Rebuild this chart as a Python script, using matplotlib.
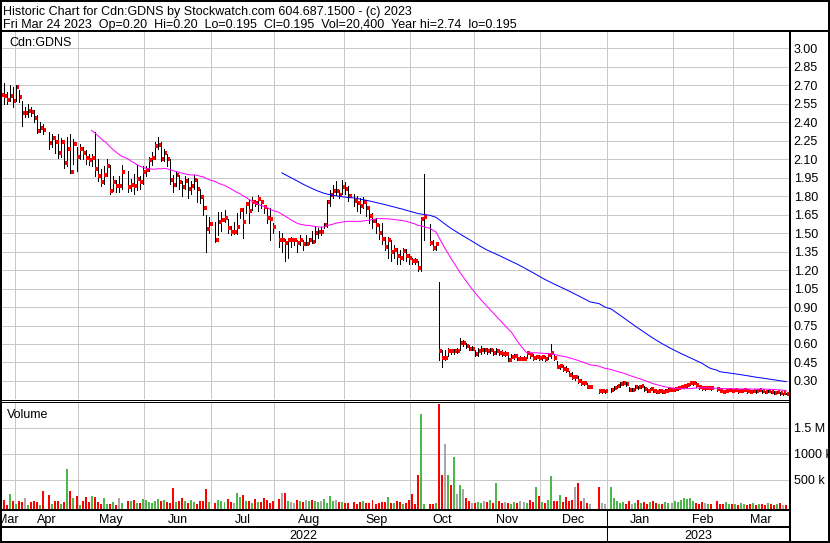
import numpy as np
import pandas as pd
import matplotlib
matplotlib.use("Agg")
import matplotlib.pyplot as plt
from matplotlib.lines import Line2D

# --- Configuration ---
W, H = 830, 543
PX = 0.72  # one pixel in points at dpi 100
OUT = "out.png"

HEADER_1 = "Historic Chart for Cdn:GDNS by Stockwatch.com 604.687.1500 - (c) 2023"
HEADER_2 = ("Fri Mar 24 2023  Op=0.20  Hi=0.20  Lo=0.195  Cl=0.195  "
            "Vol=20,400  Year hi=2.74  lo=0.195")
SYMBOL = "Cdn:GDNS"

# one entry per weekday from 2022-03-25 to 2023-03-24, None = no trading (holiday)
close = [
    2.62, 2.61, 2.58, 2.61, 2.57,  # Mar
    2.68, 2.60, 2.475, 2.475, 2.49, 2.48, 2.43, 2.33, 2.35, 2.335, None, 2.23, 2.27, 2.24, 2.15, 2.24,
    2.065, 2.18, 1.995, 2.22, 2.12,  # Apr
    2.18, 2.145, 2.105, 2.09, 2.105, 2.02, 1.96, 1.91, 1.97, 2.04, 1.84, 1.91, 1.88, 1.88, 1.995, None,
    1.875, 1.89, 1.885, 1.935, 1.915, 1.995,  # May
    2.01, 2.09, 2.11, 2.205, 2.21, 2.10, 2.145, 2.10, 1.93, 1.89, 1.97, 1.915, 1.875, 1.92, 1.855, 1.88,
    1.93, 1.86, 1.79, 1.70, 1.53, 1.57,  # Jun
    None, 1.44, 1.59, 1.605, 1.62, 1.54, 1.505, 1.505, 1.55, 1.69, 1.59, 1.735, 1.68, 1.755, 1.745, 1.775,
    1.755, 1.71, 1.62, 1.615, 1.55,  # Jul
    None, 1.44, 1.44, 1.415, 1.44, 1.44, 1.44, 1.415, 1.44, 1.41, 1.41, 1.44, 1.43, 1.50, 1.505, 1.505,
    1.565, 1.75, 1.81, 1.84, 1.84, 1.81, 1.87,  # Aug
    1.86, 1.80, None, 1.76, 1.74, 1.72, 1.75, 1.70, 1.64, 1.60, 1.565, 1.50, 1.455, 1.385, 1.44, 1.35,
    1.36, 1.31, 1.295, 1.355, 1.31, 1.295,  # Sep
    1.275, 1.27, 1.215, 1.61, 1.63, None, 1.42, 1.375, 1.41, 0.54, 0.485, 0.485, 0.545, 0.54, 0.545, 0.545,
    0.605, 0.605, 0.58, 0.56, 0.56,  # Oct
    0.515, 0.54, 0.55, 0.55, 0.54, 0.555, 0.525, 0.545, 0.525, 0.515, 0.515, 0.47, 0.495, 0.50, 0.48, 0.48,
    0.48, 0.525, 0.51, 0.485, 0.495, 0.485,  # Nov
    0.495, 0.48, 0.51, 0.525, 0.485, 0.415, 0.42, 0.395, 0.39, 0.35, 0.33, 0.33, 0.30, 0.285, 0.285, 0.25,
    0.25, None, None, 0.215, 0.215, 0.215,  # Dec
    None, 0.226, 0.24, 0.259, 0.275, 0.286, 0.275, 0.226, 0.226, 0.253, 0.248, 0.259, 0.232, 0.22, 0.232,
    0.218, 0.212, 0.22, 0.212, 0.22, 0.226, 0.226,  # Jan
    0.232, 0.24, 0.253, 0.259, 0.265, 0.28, 0.286, 0.265, 0.248, 0.24, 0.24, 0.245, 0.24, None, 0.232,
    0.22, 0.212, 0.218, 0.226, 0.22,  # Feb
    0.226, 0.215, 0.22, 0.226, 0.215, 0.21, 0.22, 0.215, 0.226, 0.215, 0.21, 0.22, 0.212, 0.205, 0.21,
    0.20, 0.20, 0.195,  # Mar
]

high = [
    2.74, 2.72, 2.64, 2.70, 2.68,
    2.70, 2.66, 2.57, 2.52, 2.55, 2.52, 2.50, 2.46, 2.40, 2.38, None, 2.32, 2.30, 2.28, 2.30, 2.27,
    2.22, 2.28, 2.30, 2.26, 2.20,
    2.22, 2.20, 2.17, 2.14, 2.14, 2.32, 2.10, 2.02, 2.04, 2.10, 2.05, 1.96, 1.93, 1.96, 2.05, None,
    2.00, 1.94, 1.98, 2.05, 1.96, 2.04,
    2.04, 2.12, 2.16, 2.24, 2.28, 2.24, 2.18, 2.14, 2.10, 1.97, 2.00, 1.97, 1.92, 1.96, 1.95, 1.92,
    1.97, 1.94, 1.86, 1.80, 1.65, 1.63,
    None, 1.59, 1.67, 1.67, 1.69, 1.61, 1.56, 1.59, 1.66, 1.70, 1.70, 1.74, 1.77, 1.79, 1.77, 1.81,
    1.75, 1.73, 1.70, 1.70, 1.58,
    None, 1.52, 1.50, 1.45, 1.44, 1.47, 1.46, 1.44, 1.48, 1.44, 1.48, 1.46, 1.52, 1.55, 1.54, 1.55,
    1.58, 1.77, 1.85, 1.89, 1.92, 1.85, 1.93,
    1.91, 1.88, None, 1.82, 1.80, 1.78, 1.79, 1.76, 1.72, 1.66, 1.62, 1.57, 1.58, 1.47, 1.47, 1.44,
    1.40, 1.38, 1.36, 1.38, 1.37, 1.33,
    1.30, 1.30, 1.27, 1.63, 1.98, None, 1.57, 1.44, 1.43, 1.105, 0.55, 0.55, 0.57, 0.56, 0.56, 0.57,
    0.65, 0.63, 0.61, 0.59, 0.58,
    0.55, 0.57, 0.58, 0.57, 0.57, 0.57, 0.56, 0.57, 0.55, 0.55, 0.54, 0.53, 0.52, 0.52, 0.51, 0.50,
    0.50, 0.54, 0.53, 0.52, 0.51, 0.51,
    0.51, 0.50, 0.53, 0.60, 0.52, 0.46, 0.44, 0.43, 0.42, 0.38, 0.37, 0.35, 0.34, 0.32, 0.30, 0.28,
    0.27, None, None, 0.23, 0.23, 0.23,
    None, 0.24, 0.26, 0.27, 0.29, 0.30, 0.29, 0.25, 0.24, 0.27, 0.26, 0.27, 0.26, 0.24, 0.245,
    0.235, 0.23, 0.235, 0.23, 0.235, 0.24, 0.24,
    0.245, 0.25, 0.265, 0.27, 0.28, 0.29, 0.30, 0.29, 0.27, 0.255, 0.25, 0.255, 0.25, None, 0.245,
    0.235, 0.225, 0.23, 0.235, 0.23,
    0.235, 0.23, 0.23, 0.235, 0.225, 0.22, 0.23, 0.225, 0.235, 0.225, 0.22, 0.23, 0.22, 0.215, 0.215,
    0.21, 0.205, 0.20,
]

low = [
    2.40, 2.55, 2.55, 2.57, 2.52,
    2.57, 2.56, 2.37, 2.44, 2.44, 2.45, 2.40, 2.31, 2.32, 2.30, None, 2.18, 2.20, 2.15, 2.11, 2.12,
    2.03, 2.04, 1.99, 2.06, 2.00,
    2.10, 2.10, 2.06, 2.05, 2.04, 1.96, 1.92, 1.88, 1.90, 1.96, 1.82, 1.84, 1.83, 1.83, 1.86, None,
    1.83, 1.84, 1.82, 1.85, 1.86, 1.90,
    1.96, 2.00, 2.05, 2.10, 2.18, 2.08, 2.08, 2.04, 1.90, 1.83, 1.88, 1.86, 1.80, 1.86, 1.78, 1.82,
    1.86, 1.75, 1.74, 1.65, 1.35, 1.50,
    None, 1.43, 1.48, 1.52, 1.59, 1.50, 1.48, 1.49, 1.49, 1.62, 1.46, 1.66, 1.58, 1.69, 1.72, 1.68,
    1.70, 1.66, 1.58, 1.44, 1.50,
    None, 1.39, 1.35, 1.27, 1.30, 1.39, 1.40, 1.35, 1.40, 1.36, 1.40, 1.41, 1.42, 1.43, 1.46, 1.48,
    1.54, 1.55, 1.72, 1.78, 1.81, 1.78, 1.82,
    1.82, 1.76, None, 1.72, 1.68, 1.66, 1.70, 1.64, 1.58, 1.54, 1.50, 1.45, 1.41, 1.36, 1.30, 1.27,
    1.30, 1.25, 1.25, 1.28, 1.27, 1.25,
    1.25, 1.25, 1.19, 1.19, 1.44, None, 1.40, 1.36, 1.36, 0.47, 0.41, 0.47, 0.50, 0.52, 0.52, 0.53,
    0.55, 0.58, 0.57, 0.55, 0.55,
    0.50, 0.50, 0.52, 0.53, 0.52, 0.53, 0.51, 0.52, 0.51, 0.50, 0.50, 0.46, 0.47, 0.48, 0.47, 0.47,
    0.47, 0.49, 0.49, 0.47, 0.48, 0.47,
    0.47, 0.46, 0.48, 0.49, 0.47, 0.41, 0.40, 0.38, 0.37, 0.34, 0.32, 0.31, 0.28, 0.27, 0.27, 0.24,
    0.24, None, None, 0.20, 0.205, 0.205,
    None, 0.21, 0.225, 0.24, 0.255, 0.27, 0.26, 0.215, 0.215, 0.225, 0.235, 0.24, 0.22, 0.21, 0.21,
    0.21, 0.205, 0.21, 0.205, 0.21, 0.215, 0.215,
    0.22, 0.225, 0.24, 0.245, 0.25, 0.265, 0.27, 0.255, 0.235, 0.23, 0.23, 0.235, 0.23, None, 0.22,
    0.21, 0.205, 0.21, 0.215, 0.21,
    0.215, 0.205, 0.21, 0.215, 0.205, 0.20, 0.21, 0.205, 0.215, 0.205, 0.20, 0.21, 0.20, 0.195, 0.20,
    0.19, 0.19, 0.195,
]

# volume in thousands of shares
volume = [
    210, 115, 20, 230, 100,
    40, 100, 80, 160, 20, 80, 100, 80, 20, 290, None, 210, 40, 100, 100, 40, 80, 710, 290, 160, 200,
    20, 90, 170, 80, 200, 170, 80, 30, 160, 40, 40, 80, 20, 150, 60, None, 100, 90, 120, 60, 50, 130,
    120, 80, 60, 100, 130, 90, 110, 70, 60, 340, 80, 100, 150, 90, 60, 120, 80, 40, 90, 100, 320, 70,
    None, 60, 110, 90, 70, 130, 80, 60, 250, 180, 210, 100, 90, 60, 130, 80, 70, 150, 110, 60, 90,
    None, 140, 250, 250, 100, 70, 60, 120, 90, 80, 110, 100, 120, 90, 70, 100, 130, 60, 200, 90, 110,
    70, 80,
    60, 50, None, 80, 40, 70, 90, 60, 50, 110, 40, 60, 80, 70, 170, 50, 60, 90, 80, 40, 60, 120,
    230, 40, 600, 1770, 40, None, 40, 30, 50, 1960, 600, 1190, 590, 410, 940, 240, 410, 330, 150, 90, 60,
    60, 80, 50, 90, 70, 120, 60, 450, 90, 50, 70, 60, 40, 80, 60, 100, 70, 50, 110, 80, 370, 200,
    80, 60, 120, 580, 90, 100, 210, 70, 180, 100, 120, 370, 450, 90, 150, 60, 40, None, None, 370, 60, 30,
    None, 370, 150, 100, 60, 80, 40, 90, 30, 60, 110, 50, 80, 40, 70, 100, 60, 40, 30, 80, 50, 60,
    100, 80, 120, 150, 130, 160, 100, 60, 40, 80, 50, 40, 30, None, 100, 40, 30, 70, 40, 30,
    30, 20, 60, 40, 20, 30, 50, 20, 40, 30, 20, 50, 30, 20, 40, 60, 20, 20,
]

PRICE_TICKS = [0.30, 0.45, 0.60, 0.75, 0.90, 1.05, 1.20, 1.35, 1.50, 1.65, 1.80, 1.95,
               2.10, 2.25, 2.40, 2.55, 2.70, 2.85, 3.00]
VOL_TICKS = [500, 1000, 1500]
VOL_LABELS = ["500 k", "1000 k", "1.5 M"]

GRID = "#c8c8c8"
UP, DOWN, FLAT = "#4cb84c", "#ff0000", "#a8a8a8"


def to_arr(vals):
    return np.array([np.nan if v is None else v for v in vals], dtype=float)


plt.rcParams["font.family"] = ["Liberation Sans", "DejaVu Sans"]
FS = 9.0

days = pd.bdate_range("2022-03-25", "2023-03-24")
pos = np.arange(len(days))
c, hi, lo, vol = to_arr(close), to_arr(high), to_arr(low), to_arr(volume)
ok = ~np.isnan(c)

# month boundaries (first weekday of each month)
month_key = days.year * 12 + days.month
starts = [i for i in range(1, len(days)) if month_key[i] != month_key[i - 1]]
bounds = [s - 0.5 for s in starts]
XL = (0.0, 260.9)

fig = plt.figure(figsize=(W / 100, H / 100), dpi=100)
fig.patch.set_facecolor("white")


def px_axes(x0, y0, x1, y1):
    return fig.add_axes([x0 / W, 1 - y1 / H, (x1 - x0) / W, (y1 - y0) / H])


def ftext(x, y, s, **kw):
    fig.text(x / W, 1 - y / H, s, fontsize=FS, va="baseline", **kw)


def fline(x0, y0, x1, y1, lw=1):
    fig.add_artist(Line2D([x0 / W, x1 / W], [1 - y0 / H, 1 - y1 / H], color="black",
                          lw=lw * PX, solid_capstyle="butt"))


# --- price panel ---
ax = px_axes(1, 32, 789, 399)
ax.set_xlim(*XL)
ax.set_ylim(0.154, 3.13)
ax.set_xticks(bounds)
ax.set_yticks(PRICE_TICKS)
ax.set_yticklabels([f"{t:.2f}" for t in PRICE_TICKS], fontsize=FS)
ax.yaxis.tick_right()
ax.tick_params(axis="y", length=0, pad=3.4)
ax.tick_params(axis="x", length=0, labelbottom=False)
ax.grid(True, color=GRID, lw=PX, antialiased=False)
ax.set_axisbelow(True)
for sp in ax.spines.values():
    sp.set_visible(False)

ax.vlines(pos[ok], lo[ok], hi[ok], color="black", lw=PX, antialiased=False, zorder=3)
ax.hlines(c[ok], pos[ok] + 0.15, pos[ok] + 1.05, color="red", lw=2.2 * PX, antialiased=False, zorder=4)

s = pd.Series(c[ok])
ma30 = s.rolling(30).mean().to_numpy()
ma90 = s.rolling(90).mean().to_numpy()
ax.plot(pos[ok], ma30, color="#ff00ff", lw=PX, zorder=5)
ax.plot(pos[ok], ma90, color="#0000ff", lw=PX, zorder=5)

# --- volume panel ---
vax = px_axes(1, 402, 789, 509)
vax.set_xlim(*XL)
vax.set_ylim(-58, 2000)
vax.set_xticks(bounds)
vax.set_yticks(VOL_TICKS)
vax.set_yticklabels(VOL_LABELS, fontsize=FS)
vax.yaxis.tick_right()
vax.tick_params(axis="y", length=0, pad=3.4)
vax.tick_params(axis="x", length=0, labelbottom=False)
vax.grid(True, color=GRID, lw=PX, antialiased=False)
vax.set_axisbelow(True)
for sp in vax.spines.values():
    sp.set_visible(False)

prev = np.nan
cols = []
for v in c:
    if np.isnan(v):
        cols.append(FLAT)
        continue
    if np.isnan(prev) or v == prev:
        cols.append(FLAT)
    elif v > prev:
        cols.append(UP)
    else:
        cols.append(DOWN)
    prev = v
cols = np.array(cols)
vax.bar(pos[ok], vol[ok] + 58, bottom=-58, width=0.66, color=cols[ok], linewidth=0,
        antialiased=False, zorder=3)

# --- labels ---
ftext(3, 14.7, HEADER_1)
ftext(3, 28, HEADER_2)
ftext(9, 45.7, SYMBOL)
ftext(7, 417.7, "Volume")

scale = 788 / (XL[1] - XL[0])


def xpix(s_):
    return 1 + (s_ - XL[0]) * scale


edges = [XL[0]] + bounds + [XL[1]]
names = [days[0].strftime("%b")] + [days[i].strftime("%b") for i in starts]
for (a, b), name in zip(zip(edges[:-1], edges[1:]), names):
    ftext((xpix(a) + xpix(b)) / 2, 523.3, name, ha="center")

jan = [i for i in starts if days[i].month == 1][0]
xj = xpix(jan - 0.5)
ftext(xpix(XL[0]) / 2 + xj / 2, 539, str(days[0].year), ha="center")
ftext((xj + 789) / 2, 539, str(days[-1].year), ha="center")

# --- frame lines ---
fline(0, 1, W, 1, 2)
fline(0, H - 1, W, H - 1, 2)
fline(1, 0, 1, H, 2)
fline(W - 1, 0, W - 1, H, 2)
fline(0, 31, W, 31, 2)
fline(789.5, 31, 789.5, H, 2)
fline(0, 399.5, 789, 399.5, 1)
fline(0, 401.5, 789, 401.5, 1)
fline(0, 510, 789, 510, 2)
fline(0, 526.5, 789, 526.5, 2)
fline(xj, 510, xj, H, 1)

fig.savefig(OUT, dpi=100)
